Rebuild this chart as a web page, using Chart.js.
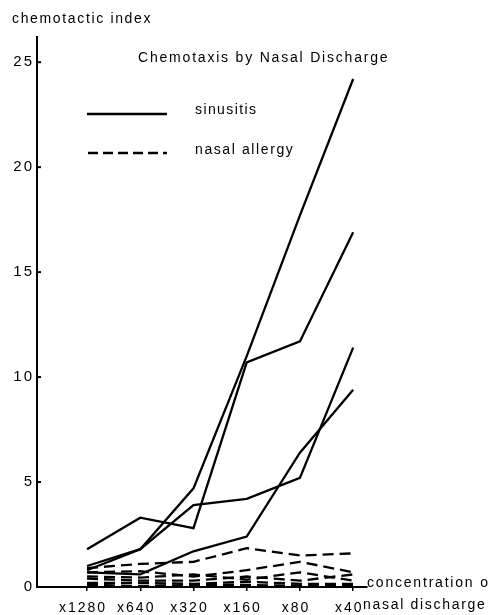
<!DOCTYPE html>
<html>
<head>
<meta charset="utf-8">
<script src="https://cdn.jsdelivr.net/npm/chart.js@4/dist/chart.umd.min.js"></script>
<style>
html, body { margin: 0; padding: 0; background: #fff; }
#wrap { width: 489px; height: 615px; }
</style>
</head>
<body>
<div id="wrap"><canvas id="chart" width="489" height="615"></canvas></div>
<script>
"use strict";
// --- dados -------------------------------------------------------------------
const DILUTIONS = ["x1280", "x640", "x320", "x160", "x80", "x40"];
const Y_TICKS = [0, 5, 10, 15, 20, 25];

// sinusitis (linhas cheias)
const SIN_A = [1.0, 1.8, 4.7, 11.0, 17.7, 24.2];
const SIN_B = [1.8, 3.3, 2.8, 10.7, 11.7, 16.9];
const SIN_C = [0.8, 1.8, 3.9, 4.2, 5.2, 11.4];
const SIN_D = [0.7, 0.6, 1.7, 2.4, 6.4, 9.4];

// nasal allergy (tracejadas)
const ALL_A = [0.9, 1.1, 1.2, 1.85, 1.5, 1.6];
const ALL_B = [0.7, 0.75, 0.5, 0.8, 1.2, 0.7];
const ALL_C = [0.5, 0.45, 0.6, 0.35, 0.7, 0.3];
const ALL_D = [0.4, 0.3, 0.3, 0.5, 0.3, 0.6];
const ALL_E = [0.2, 0.2, 0.15, 0.25, 0.15, 0.15];
const ALL_F = [0.1, 0.05, 0.1, 0.1, 0.05, 0.1];

const FONT = "'Liberation Sans', Arial, sans-serif";
const pts = (arr) => arr.map((v, i) => ({ x: i, y: v }));

function solid(arr) {
  return { data: pts(arr), borderColor: "#000", borderWidth: 2.3, pointRadius: 0, tension: 0, fill: false };
}
function dashed(arr) {
  return { data: pts(arr), borderColor: "#000", borderWidth: 2.3, borderDash: [11, 6], pointRadius: 0, tension: 0, fill: false };
}

// --- textos, ticks do eixo y e legenda ----------------------------------------
const decor = {
  id: "decor",
  beforeDraw(chart) { chart.ctx.letterSpacing = "2px"; },
  afterDraw(chart) {
    const ctx = chart.ctx;
    const ys = chart.scales.y, left = chart.chartArea.left;
    ctx.save();
    ctx.strokeStyle = "#000";
    ctx.lineWidth = 2;
    Y_TICKS.forEach((v) => {
      const p = ys.getPixelForValue(v);
      ctx.beginPath(); ctx.moveTo(left, p); ctx.lineTo(left + 4, p); ctx.stroke();
    });
    // amostras da legenda
    ctx.lineWidth = 2.3;
    ctx.beginPath(); ctx.moveTo(87, 114); ctx.lineTo(167, 114); ctx.stroke();
    ctx.setLineDash([10, 5]);
    ctx.beginPath(); ctx.moveTo(88, 153); ctx.lineTo(167, 153); ctx.stroke();
    ctx.setLineDash([]);

    ctx.fillStyle = "#000";
    ctx.textAlign = "left";
    ctx.textBaseline = "alphabetic";
    ctx.font = "14px " + FONT;
    ctx.letterSpacing = "1.65px";
    ctx.fillText("chemotactic index", 12, 23);
    ctx.letterSpacing = "1.8px";
    ctx.fillText("Chemotaxis by Nasal Discharge", 138, 62);
    ctx.letterSpacing = "1.4px";
    ctx.fillText("sinusitis", 195, 114);
    ctx.letterSpacing = "1.6px";
    ctx.fillText("nasal allergy", 195, 154);
    ctx.letterSpacing = "1.8px";
    ctx.fillText("concentration of", 367, 587);
    ctx.letterSpacing = "1.7px";
    ctx.fillText("nasal discharge", 363, 609);
    ctx.restore();
  }
};

new Chart(document.getElementById("chart"), {
  type: "line",
  data: {
    datasets: [
      solid(SIN_A), solid(SIN_B), solid(SIN_C), solid(SIN_D),
      dashed(ALL_A), dashed(ALL_B), dashed(ALL_C), dashed(ALL_D), dashed(ALL_E), dashed(ALL_F)
    ]
  },
  options: {
    responsive: false,
    animation: false,
    layout: { padding: { top: 37, right: 122, left: 0, bottom: 0 } },
    plugins: { legend: { display: false }, title: { display: false }, tooltip: { enabled: false } },
    scales: {
      x: {
        type: "linear",
        min: -0.94, max: 5.26,
        afterBuildTicks: (s) => { s.ticks = DILUTIONS.map((_, i) => ({ value: i })); },
        afterFit: (s) => { s.height = 28; },
        ticks: { color: "#000", font: { family: FONT, size: 14 }, padding: 9, maxRotation: 0, labelOffset: -4,
                 callback: (v) => DILUTIONS[v] },
        grid: { display: true, drawOnChartArea: false, drawTicks: true, tickLength: 4, color: "#000", lineWidth: 1.5 },
        border: { display: true, color: "#000", width: 2 }
      },
      y: {
        min: 0, max: 26.2,
        afterBuildTicks: (s) => { s.ticks = Y_TICKS.map((v) => ({ value: v })); },
        afterFit: (s) => { s.width = 37; },
        ticks: { color: "#000", font: { family: FONT, size: 15 }, padding: 3 },
        grid: { display: false, drawTicks: false },
        border: { display: true, color: "#000", width: 2 }
      }
    }
  },
  plugins: [decor]
});
</script>
</body>
</html>
